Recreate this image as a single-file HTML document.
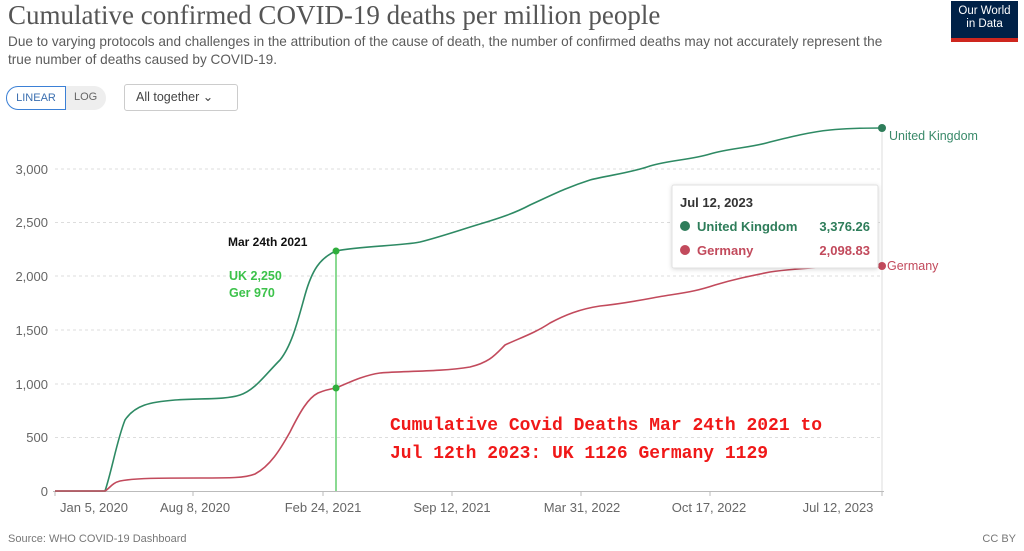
<!DOCTYPE html>
<html><head><meta charset="utf-8"><style>
body{margin:0;width:1024px;height:551px;background:#fff;font-family:"Liberation Sans",sans-serif;position:relative;overflow:hidden}
.t{position:absolute;white-space:nowrap}
</style></head><body>
<div class="t" style="left:8px;top:0px;font-family:'Liberation Serif',serif;font-size:27px;color:#555">Cumulative confirmed COVID-19 deaths per million people</div>
<div class="t" style="left:8px;top:33px;font-size:13.6px;color:#5b5b5b;line-height:18px">Due to varying protocols and challenges in the attribution of the cause of death, the number of confirmed deaths may not accurately represent the<br>true number of deaths caused by COVID-19.</div>
<div style="position:absolute;left:951px;top:1px;width:67px;height:41px;background:#002147;border-bottom:4px solid #ce261e;box-sizing:border-box;color:#fff;font-size:11.5px;text-align:center;line-height:13px;padding-top:4px">Our World<br>in Data</div>
<div style="position:absolute;left:6px;top:86px;width:100px;height:24px;border-radius:12px;background:#eee;"></div>
<div style="position:absolute;left:6px;top:86px;width:58px;height:22px;border-radius:12px 0 0 12px;border:1px solid #3b80d6;background:#fff;color:#3b6fb0;font-size:11px;line-height:22px;text-align:center">LINEAR</div>
<div class="t" style="left:74px;top:91px;font-size:11px;color:#666">LOG</div>
<div style="position:absolute;left:124px;top:84px;width:114px;height:27px;border:1px solid #ccc;border-radius:3px;box-sizing:border-box;font-size:12.5px;color:#444;line-height:25px;padding-left:11px">All together &#8964;</div>
<svg width="1024" height="551" style="position:absolute;left:0;top:0">
<g stroke="#ddd" stroke-dasharray="3,3">
<line x1="55" x2="882" y1="169" y2="169"/><line x1="55" x2="882" y1="222.5" y2="222.5"/><line x1="55" x2="882" y1="276" y2="276"/><line x1="55" x2="882" y1="330" y2="330"/><line x1="55" x2="882" y1="384" y2="384"/><line x1="55" x2="882" y1="437.5" y2="437.5"/>
</g>
<line x1="882" x2="882" y1="128" y2="491" stroke="#ddd"/>
<line x1="53" x2="884" y1="491.5" y2="491.5" stroke="#bbb"/>
<g stroke="#bbb"><line x1="193" x2="193" y1="491" y2="496"/><line x1="323" x2="323" y1="491" y2="496"/><line x1="452" x2="452" y1="491" y2="496"/><line x1="581" x2="581" y1="491" y2="496"/><line x1="710" x2="710" y1="491" y2="496"/><line x1="882" x2="882" y1="491" y2="496"/><line x1="55" x2="55" y1="491" y2="496"/></g>
<g font-size="13" fill="#666" text-anchor="end">
<text x="48" y="174">3,000</text><text x="48" y="227">2,500</text><text x="48" y="281">2,000</text><text x="48" y="335">1,500</text><text x="48" y="389">1,000</text><text x="48" y="442">500</text><text x="48" y="496">0</text>
</g>
<g font-size="13" fill="#666" text-anchor="middle">
<text x="94" y="512">Jan 5, 2020</text><text x="195" y="512">Aug 8, 2020</text><text x="323" y="512">Feb 24, 2021</text><text x="452" y="512">Sep 12, 2021</text><text x="582" y="512">Mar 31, 2022</text><text x="709" y="512">Oct 17, 2022</text><text x="838" y="512">Jul 12, 2023</text>
</g>
<path d="M55,491 L105,491 C112,470 117,440 125,420 C135,405 150,402 175,400 C200,398 225,400 240,395 C255,390 265,375 280,360 C292,345 298,320 305,295 C312,270 320,258 336,251 C360,246 400,246 420,242 C440,237 460,230 480,224 C500,218 515,213 530,205 C550,196 565,188 590,180 C610,175 630,173 650,166 C670,160 690,160 710,154 C730,148 750,148 770,142 C790,137 810,132 830,130 C850,128 870,128 882,128" fill="none" stroke="#2e8a64" stroke-width="1.6"/>
<path d="M55,491 L105,491 C110,488 112,483 120,481 C135,478 160,478 200,478 C230,478 245,478 255,474 C270,466 280,450 290,432 C300,412 308,398 318,393 C325,390 330,389 336,388 C350,382 365,375 380,373 C400,371 440,372 470,367 C490,362 495,355 505,345 C520,338 535,333 550,323 C565,315 580,309 600,306 C630,303 650,298 670,295 C690,292 700,290 715,285 C735,279 750,276 770,272 C790,269 810,268 830,267 C850,266 870,266 882,266" fill="none" stroke="#c24a5c" stroke-width="1.6"/>
<line x1="336" x2="336" y1="251" y2="491" stroke="#3cc24a" stroke-width="1.2"/>
<circle cx="336" cy="251" r="3.5" fill="#2fae3c"/><circle cx="336" cy="388" r="3.5" fill="#2fae3c"/>
<circle cx="882" cy="128" r="4" fill="#2e7d5a"/><circle cx="882" cy="266" r="4" fill="#c24a5c"/>
<text x="889" y="140" font-size="12.5" fill="#3a8a6a">United Kingdom</text>
<text x="887" y="270" font-size="12.5" fill="#c24a5c">Germany</text>
<text x="228" y="246" font-size="12" font-weight="bold" fill="#111">Mar 24th  2021</text>
<text x="229" y="280" font-size="12.5" font-weight="bold" fill="#3cc24a">UK 2,250</text>
<text x="229" y="297" font-size="12.5" font-weight="bold" fill="#3cc24a">Ger  970</text>
<text x="390" y="430" font-size="18" font-weight="bold" fill="#f01818" font-family="'Liberation Mono',monospace">Cumulative Covid Deaths Mar 24th 2021 to</text>
<text x="390" y="458" font-size="18" font-weight="bold" fill="#f01818" font-family="'Liberation Mono',monospace">Jul 12th 2023:  UK 1126  Germany 1129</text>
<rect x="672" y="185" width="206" height="83" fill="#fff" stroke="#e2e2e2" rx="2" style="filter:drop-shadow(0 1px 2px rgba(0,0,0,.15))"/>
<text x="680" y="207" font-size="13" font-weight="bold" fill="#333">Jul 12, 2023</text>
<circle cx="685" cy="226" r="5" fill="#2e7d5a"/><circle cx="685" cy="250" r="5" fill="#c24a5c"/>
<text x="697" y="231" font-size="13" font-weight="bold" fill="#2e7d5a">United Kingdom</text>
<text x="870" y="231" font-size="13" font-weight="bold" fill="#2e7d5a" text-anchor="end">3,376.26</text>
<text x="697" y="255" font-size="13" font-weight="bold" fill="#c24a5c">Germany</text>
<text x="870" y="255" font-size="13" font-weight="bold" fill="#c24a5c" text-anchor="end">2,098.83</text>
<text x="8" y="542" font-size="11" fill="#777">Source: WHO COVID-19 Dashboard</text>
<text x="1016" y="542" font-size="11" fill="#777" text-anchor="end">CC BY</text>
</svg>
</body></html>
